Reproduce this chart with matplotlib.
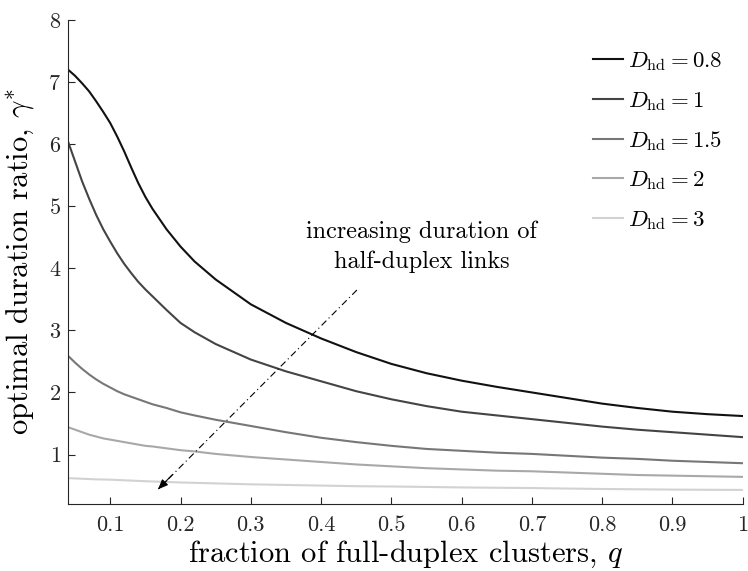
import matplotlib
matplotlib.use("Agg")
import matplotlib.pyplot as plt

plt.rcParams["font.family"] = ["cmr10", "DejaVu Serif"]
plt.rcParams["mathtext.fontset"] = "cm"
plt.rcParams["axes.formatter.use_mathtext"] = True

# fraction of full-duplex clusters
q = [0.04, 0.05, 0.06, 0.07, 0.08, 0.09, 0.10, 0.11, 0.12, 0.13, 0.14, 0.15,
     0.16, 0.18, 0.20, 0.22, 0.25, 0.30, 0.35, 0.40, 0.45, 0.50, 0.55, 0.60,
     0.65, 0.70, 0.75, 0.80, 0.85, 0.90, 0.95, 1.00]

gamma_08 = [7.20, 7.10, 6.98, 6.85, 6.69, 6.52, 6.34, 6.12, 5.88, 5.62, 5.37, 5.15,
            4.96, 4.63, 4.35, 4.11, 3.82, 3.42, 3.12, 2.87, 2.65, 2.46, 2.31, 2.19,
            2.09, 2.00, 1.91, 1.82, 1.75, 1.69, 1.65, 1.62]
gamma_1 = [6.04, 5.72, 5.40, 5.12, 4.86, 4.63, 4.43, 4.24, 4.07, 3.92, 3.78, 3.66,
           3.55, 3.33, 3.12, 2.97, 2.78, 2.53, 2.34, 2.18, 2.02, 1.89, 1.78, 1.69,
           1.63, 1.57, 1.51, 1.45, 1.40, 1.36, 1.32, 1.28]
gamma_15 = [2.59, 2.48, 2.38, 2.29, 2.21, 2.14, 2.08, 2.02, 1.97, 1.93, 1.89, 1.85,
            1.81, 1.75, 1.68, 1.63, 1.56, 1.46, 1.36, 1.27, 1.20, 1.14, 1.09, 1.06,
            1.03, 1.01, 0.98, 0.95, 0.93, 0.90, 0.88, 0.86]
gamma_2 = [1.44, 1.40, 1.36, 1.32, 1.29, 1.26, 1.24, 1.22, 1.20, 1.18, 1.16, 1.14,
           1.13, 1.10, 1.07, 1.05, 1.01, 0.96, 0.92, 0.88, 0.84, 0.81, 0.78, 0.76,
           0.74, 0.73, 0.71, 0.69, 0.67, 0.66, 0.65, 0.64]
gamma_3 = [0.62, 0.615, 0.61, 0.605, 0.60, 0.598, 0.595, 0.59, 0.585, 0.58, 0.575, 0.57,
           0.566, 0.558, 0.55, 0.544, 0.535, 0.52, 0.51, 0.50, 0.49, 0.485, 0.478, 0.47,
           0.465, 0.46, 0.452, 0.445, 0.44, 0.435, 0.432, 0.43]

d_hd = ["0.8", "1", "1.5", "2", "3"]
series = [gamma_08, gamma_1, gamma_15, gamma_2, gamma_3]
colors = ["#111111", "#444444", "#777777", "#a8a8a8", "#d2d2d2"]

xticks = [0.1, 0.2, 0.3, 0.4, 0.5, 0.6, 0.7, 0.8, 0.9, 1.0]
xticklabels = ["0.1", "0.2", "0.3", "0.4", "0.5", "0.6", "0.7", "0.8", "0.9", "1"]
yticks = [1, 2, 3, 4, 5, 6, 7, 8]

# arrow of the annotation (start -> tip), data coords
arrow_start = (0.451, 3.65)
arrow_tip = (0.168, 0.44)
note_pos = (0.543, 4.35)

fig = plt.figure(figsize=(7.48, 5.71), dpi=100)
ax = fig.add_axes([0.091, 0.117, 0.902, 0.848])

for d, y, c in zip(d_hd, series, colors):
    ax.plot(q, y, color=c, lw=1.5, label=r"$D_{\rm hd} = %s$" % d)

ax.set_xlim(0.04, 1.0)
ax.set_ylim(0.2, 8)
ax.set_xticks(xticks)
ax.set_xticklabels(xticklabels)
ax.set_yticks(yticks)

for s in ["top", "right"]:
    ax.spines[s].set_visible(False)
for s in ["left", "bottom"]:
    ax.spines[s].set_color("#262626")
    ax.spines[s].set_linewidth(0.8)
ax.tick_params(direction="in", length=5, width=0.8, colors="#262626", labelsize=16)
ax.tick_params(axis="x", pad=8)
ax.tick_params(axis="y", pad=5)

ax.set_xlabel(r"fraction of full-duplex clusters, $q$", fontsize=22, labelpad=3)
ax.set_ylabel(r"optimal duration ratio, $\gamma^{*}$", fontsize=22, labelpad=8)

leg = ax.legend(loc="upper right", frameon=False, fontsize=16.5, handlelength=1.3,
                handletextpad=0.2, labelspacing=0.72, borderaxespad=0.5,
                bbox_to_anchor=(1.0, 0.98))

# dash-dot arrow
ax.plot([arrow_start[0], arrow_tip[0]], [arrow_start[1], arrow_tip[1]],
        color="k", lw=0.8, ls=(0, (6, 3, 1, 3)))
ax.annotate("", xy=arrow_tip, xytext=(arrow_tip[0] + 0.02, arrow_tip[1] + 0.23),
            arrowprops=dict(arrowstyle="-|>,head_length=0.6,head_width=0.25",
                            color="k", lw=0.8, shrinkA=0, shrinkB=0))
ax.text(note_pos[0], note_pos[1], "increasing duration of\nhalf-duplex links",
        fontsize=17.5, ha="center", va="center", linespacing=1.4)

fig.savefig("out.png", dpi=100)
